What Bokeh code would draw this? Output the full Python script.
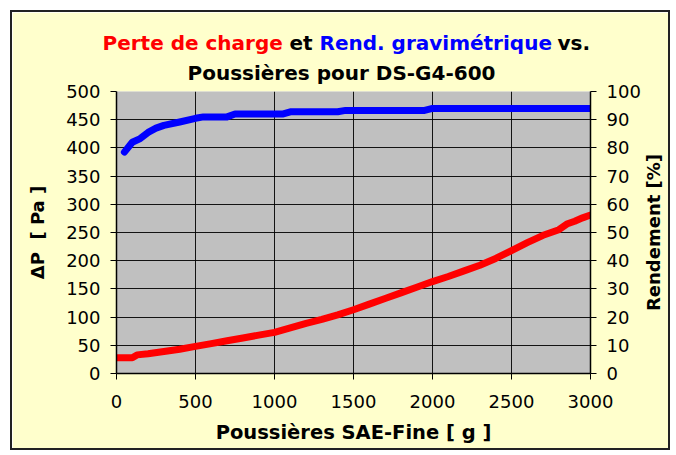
import math
from bokeh.plotting import figure
from bokeh.models import Range1d, LinearAxis, Title, Label, SingleIntervalTicker
from bokeh.embed import file_html
from bokeh.resources import INLINE

# Perte de charge (Pa) vs poussières (g)
dust_dp = [0, 100, 130, 200, 300, 400, 500, 600, 700, 800, 900, 1000, 1100, 1200,
           1300, 1400, 1500, 1600, 1700, 1800, 1900, 2000, 2100, 2200, 2300, 2400,
           2500, 2600, 2700, 2800, 2850, 2900, 2950, 3000]
dp = [28, 28, 33, 35, 39, 43, 48, 53, 58, 63, 68, 73, 81, 89,
      96, 104, 113, 123, 133, 143, 153, 163, 172, 182, 192, 204,
      218, 232, 245, 255, 265, 270, 276, 281]

# Rendement gravimétrique (%) vs poussières (g)
dust_eff = [50, 100, 150, 200, 250, 300, 400, 500, 550, 700, 750, 1050, 1100,
            1400, 1450, 1950, 2000, 3000]
eff = [78.5, 82, 83.3, 85.5, 87, 88, 89.2, 90.5, 91, 91, 92, 92, 92.8,
       92.8, 93.3, 93.3, 94, 94]

title_line1 = ["Perte de charge", "et", "Rend. gravimétrique", "vs."]
title_line1_colors = ["#FF0000", "black", "#0000FF", "black"]
title_line2 = "Poussières pour DS-G4-600"

FONT = "DejaVu Sans"

p = figure(width=660, height=440, output_backend="svg", toolbar_location=None,
           x_range=Range1d(0, 3000), y_range=Range1d(0, 500),
           min_border_left=104, min_border_right=82, min_border_top=79,
           min_border_bottom=79, title_location=None,
           background_fill_color="#C0C0C0", border_fill_color="#FFFFCC")
p.styles = {"border": "2px solid #222222", "margin": "10px 0px 0px 10px"}
p.outline_line_color = None

p.extra_y_ranges = {"pct": Range1d(0, 100)}
right = LinearAxis(y_range_name="pct", ticker=SingleIntervalTicker(interval=10))
p.add_layout(right, "right")

p.xaxis.ticker = SingleIntervalTicker(interval=500)
p.yaxis[0].ticker = SingleIntervalTicker(interval=50)
p.xaxis.axis_label = "Poussières SAE-Fine [ g ]"
p.yaxis[0].axis_label = "ΔP\u00a0 [ Pa ]"

for ax in [p.xaxis[0], p.yaxis[0], right]:
    ax.axis_line_color = "black"
    ax.axis_line_width = 1.5
    ax.major_tick_line_color = "black"
    ax.major_tick_in = 0
    ax.major_tick_out = 6
    ax.minor_tick_line_color = None
    ax.major_label_text_font = FONT
    ax.major_label_text_font_size = "18px"
    ax.major_label_text_color = "black"
    ax.axis_label_text_font = FONT
    ax.axis_label_text_font_style = "bold"
    ax.axis_label_text_font_size = "18px"
    ax.axis_label_text_color = "black"

p.yaxis[0].major_label_standoff = 10
p.yaxis[0].axis_label_standoff = 15
right.major_label_standoff = 10
p.xaxis[0].major_label_standoff = 15
p.xaxis[0].axis_label_standoff = 10
p.xaxis[0].axis_label_text_font_size = "19.5px"

# right-hand axis title, reading bottom-to-top, in its own side panel
p.add_layout(Label(x=10, y=141, x_units="screen", y_units="screen",
                   text="Rendement [%]", angle=math.pi / 2,
                   text_align="center", text_baseline="middle",
                   text_font=FONT, text_font_size="18px", text_font_style="bold",
                   text_color="black"), "right")

p.xgrid.ticker = SingleIntervalTicker(interval=500)
p.ygrid.ticker = SingleIntervalTicker(interval=50)
p.grid.grid_line_color = "black"
p.grid.grid_line_alpha = 0.9
p.grid.grid_line_width = 1

p.line(dust_dp, dp, line_color="#FF0000", line_width=7, line_join="round", line_cap="round")
p.line(dust_eff, eff, line_color="#0000FF", line_width=7, line_join="round",
       line_cap="round", y_range_name="pct")

# Title: stacked Title annotations in the 'above' panel.
# Panel height = 2 + text height + standoff; negative standoffs collapse panels so
# the coloured pieces of line 1 share one baseline.
def add_title(text, color, offset, standoff):
    p.add_layout(Title(text=text, text_color=color, align="left", offset=offset,
                       standoff=standoff, vertical_align="middle",
                       text_font=FONT, text_font_size="20px",
                       text_font_style="bold"), "above")

add_title(title_line2, "black", 71, 12)         # nearest the frame
add_title("\u00a0", "black", 0, -15)            # spacer
line1_offsets = [-14, 173, 203, 441]
for txt, col, off in zip(title_line1, title_line1_colors, line1_offsets):
    add_title(txt, col, off, -26)

open("out.html", "w").write(file_html(p, INLINE))
